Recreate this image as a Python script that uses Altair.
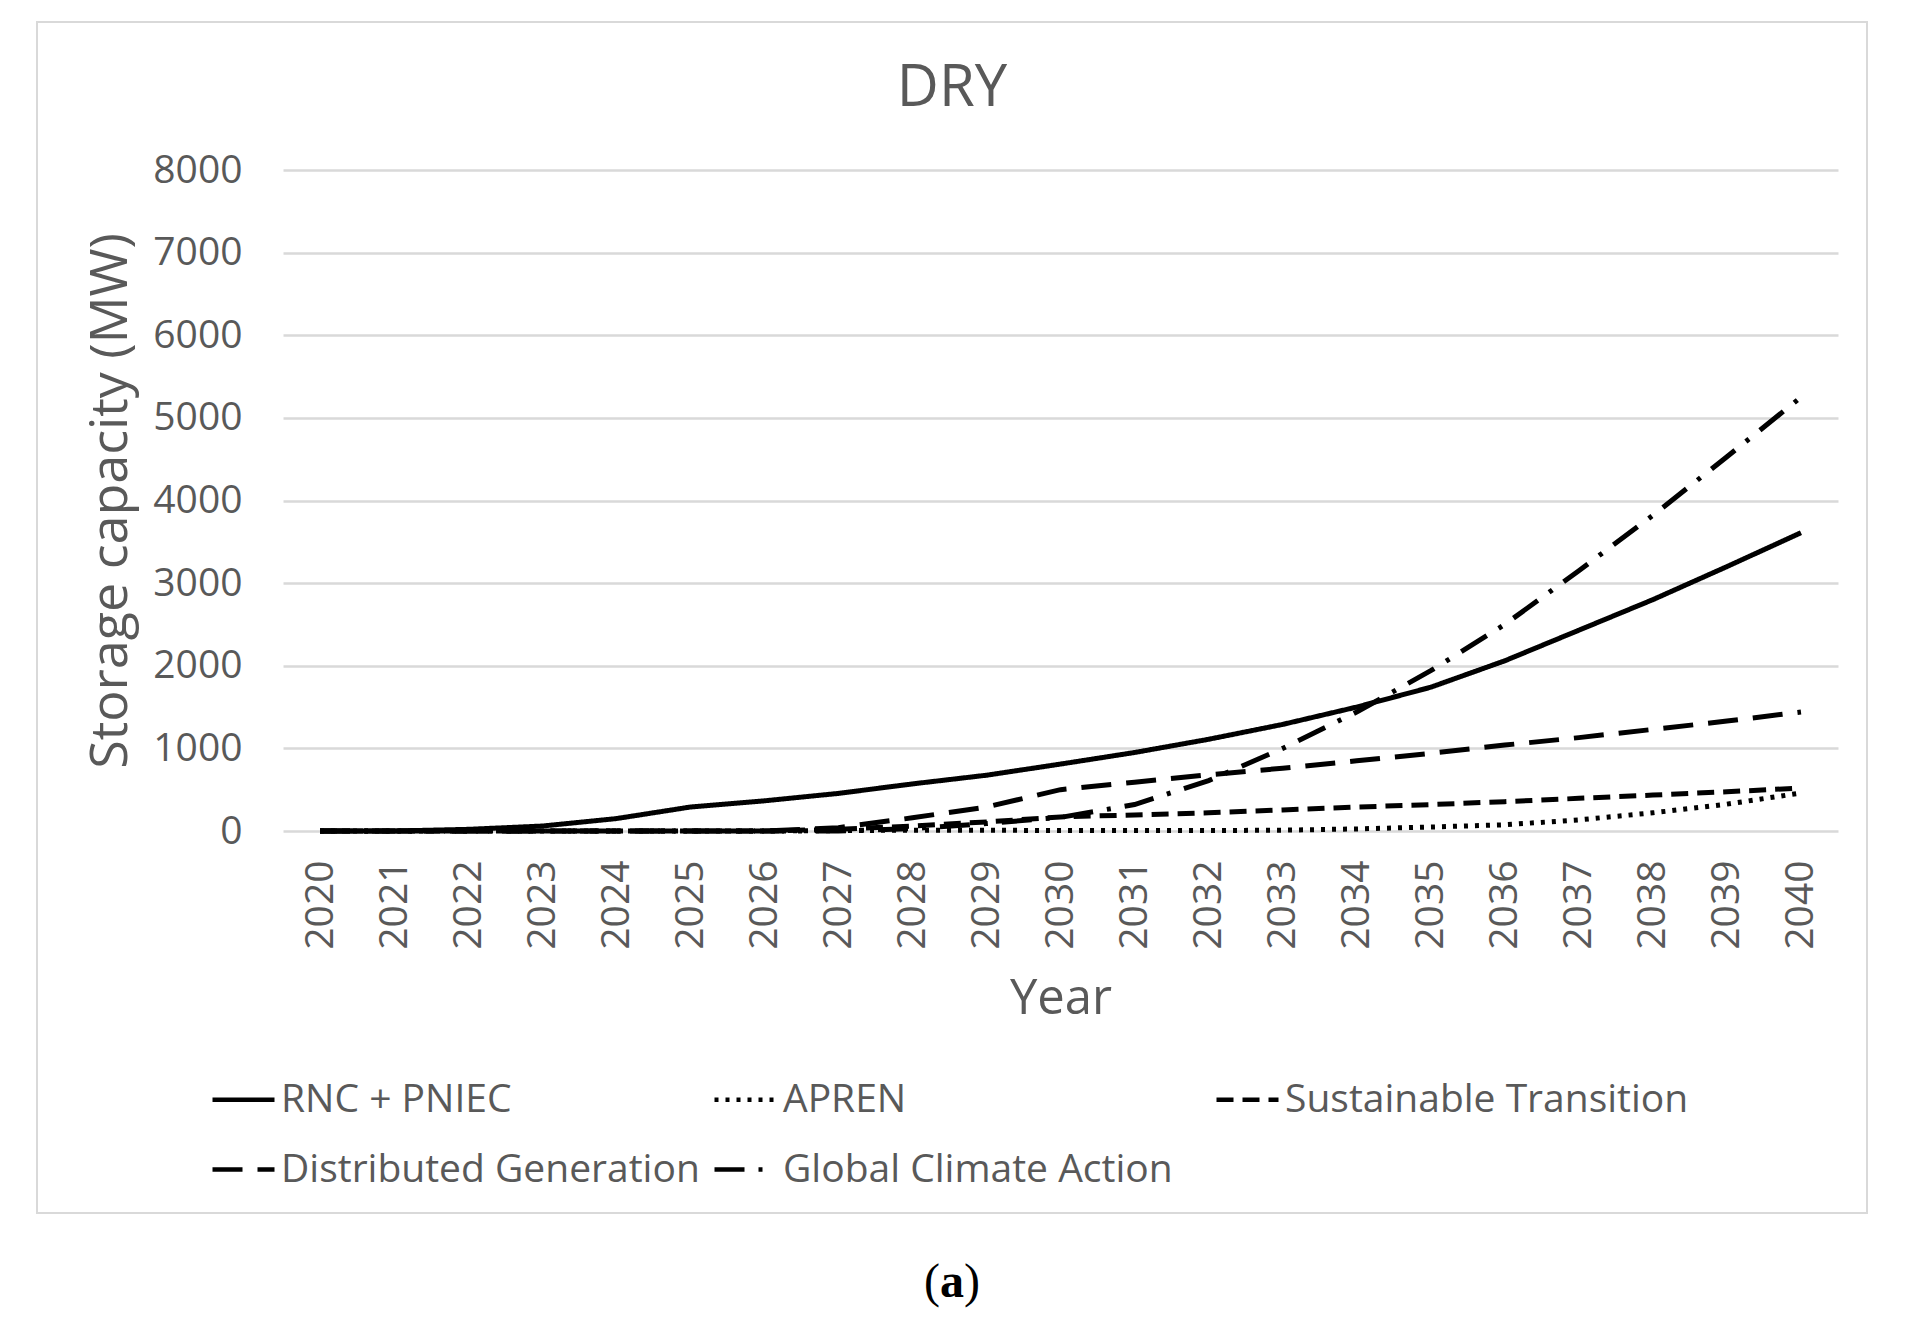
import altair as alt
import pandas as pd

# ---- data ----
years = [str(y) for y in range(2020, 2041)]
series_names = ["RNC + PNIEC", "APREN", "Sustainable Transition",
                "Distributed Generation", "Global Climate Action"]

rnc_pniec = [0, 0, 20, 60, 150, 290, 365, 455, 570, 675, 810, 950, 1110,
             1290, 1500, 1740, 2060, 2430, 2800, 3200, 3610]
apren = [0, 0, 0, 0, 0, 0, 0, 5, 10, 10, 5, 5, 5, 10, 25, 48, 75, 135,
         220, 325, 460]
sustainable = [0, 0, 0, 0, 0, 0, 0, 20, 60, 110, 170, 195, 220, 255, 290,
               320, 355, 395, 435, 475, 520]
distributed = [0, 0, 0, 0, 0, 0, 0, 40, 160, 290, 500, 590, 680, 760, 850,
               940, 1040, 1130, 1230, 1330, 1440]
global_climate = [0, 0, 0, 0, 0, 0, 0, 0, 30, 90, 165, 320, 610, 1000, 1440,
                  1940, 2500, 3150, 3820, 4530, 5250]

y_ticks = [0, 1000, 2000, 3000, 4000, 5000, 6000, 7000, 8000]
dash_patterns = [[1, 0], [4, 7], [17, 9], [30, 15], [30, 14, 4, 14]]

chart_title = "DRY"
caption_parts = ["(", "a", ")"]

rows = []
for name, vals in zip(series_names,
                      [rnc_pniec, apren, sustainable, distributed, global_climate]):
    for yr, v in zip(years, vals):
        rows.append({"Year": yr, "Scenario": name, "Capacity": v})
df = pd.DataFrame(rows)

FONT = "Open Sans"
GREY = "#595959"

lines = alt.Chart(df).mark_line(color="black", strokeWidth=5, strokeCap="butt").encode(
    x=alt.X("Year:N", sort=years, title="Year",
            axis=alt.Axis(labelAngle=270, labelPadding=29, titlePadding=25,
                          labelFontSize=39, titleFontSize=49)),
    y=alt.Y("Capacity:Q", scale=alt.Scale(domain=[0, 8000]),
            title="Storage capacity (MW)",
            axis=alt.Axis(values=y_ticks, format="d", labelPadding=41,
                          titlePadding=15, labelFontSize=39, titleFontSize=52)),
    strokeDash=alt.StrokeDash(
        "Scenario:N", sort=series_names,
        scale=alt.Scale(domain=series_names, range=dash_patterns),
        legend=alt.Legend(title=None, orient="none", legendX=-73, legendY=896,
                          direction="horizontal", columns=3, gridAlign="all",
                          columnPadding=5, rowPadding=16,
                          symbolType="stroke", symbolSize=3844,
                          symbolStrokeWidth=4.5, symbolStrokeColor="black",
                          labelFont=FONT, labelFontSize=39, labelColor=GREY,
                          labelOffset=4, labelLimit=0)),
)

border = alt.Chart(alt.Data(values=[{"k": 1}])).mark_rect(
    filled=False, stroke="#d9d9d9", strokeWidth=2
).encode(x=alt.value(-246), x2=alt.value(1584), y=alt.value(-148), y2=alt.value(1043))

cap_open = alt.Chart(alt.Data(values=[{"t": caption_parts[0]}])).mark_text(
    font="Liberation Serif", fontSize=48, color="black", align="right",
    baseline="alphabetic"
).encode(text="t:N", x=alt.value(657), y=alt.value(1127))
cap_mid = alt.Chart(alt.Data(values=[{"t": caption_parts[1]}])).mark_text(
    font="Liberation Serif", fontSize=48, fontWeight="bold", color="black",
    align="center", baseline="alphabetic"
).encode(text="t:N", x=alt.value(669), y=alt.value(1127))
cap_close = alt.Chart(alt.Data(values=[{"t": caption_parts[2]}])).mark_text(
    font="Liberation Serif", fontSize=48, color="black", align="left",
    baseline="alphabetic"
).encode(text="t:N", x=alt.value(681), y=alt.value(1127))

chart = alt.layer(border, lines, cap_open, cap_mid, cap_close).properties(
    width=1555, height=661,
    autosize=alt.AutoSizeParams(type="none"),
    padding={"left": 275, "top": 162, "right": 40, "bottom": 490},
    title=alt.TitleParams(chart_title, font=FONT, fontSize=58, color=GREY,
                          fontWeight="normal", anchor="middle", frame="bounds",
                          offset=0, baseline="alphabetic", dy=143),
).configure_axis(
    labelFont=FONT, titleFont=FONT, labelColor=GREY, titleColor=GREY,
    titleFontWeight="normal", domain=False, ticks=False,
).configure_axisY(
    grid=True, gridColor="#d9d9d9", gridWidth=2.5,
).configure_axisX(
    grid=False,
).configure_view(strokeWidth=0)

chart.save("out.html", embed_options={"renderer": "svg", "actions": False})
